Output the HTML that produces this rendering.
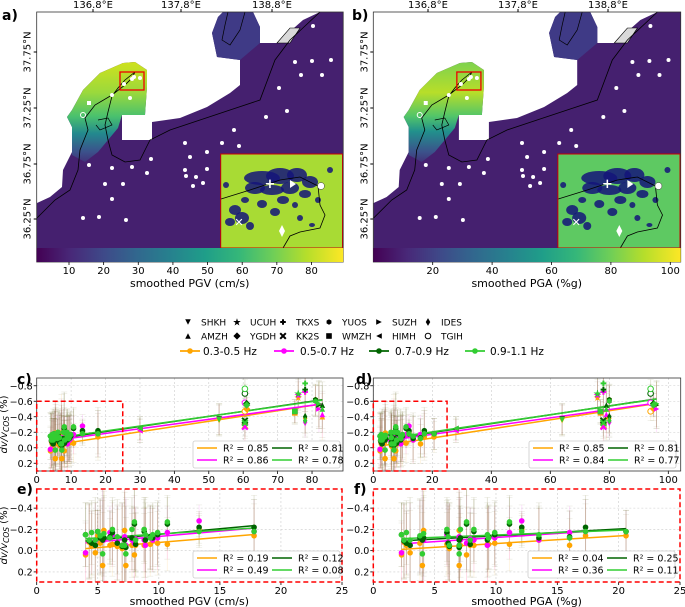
<!DOCTYPE html>
<html><head><meta charset="utf-8"><style>
html,body{margin:0;padding:0;background:#fff}
svg{display:block;font-family:"DejaVu Sans","Liberation Sans",sans-serif}
</style></head><body>
<svg id="fig" width="685" height="607" viewBox="0 0 685 607">
<defs>
<linearGradient id="vir" x1="0" x2="1" y1="0" y2="0">
<stop offset="0" stop-color="#440154"/><stop offset="0.11" stop-color="#482878"/><stop offset="0.22" stop-color="#3e4a89"/><stop offset="0.33" stop-color="#31688e"/><stop offset="0.44" stop-color="#26828e"/><stop offset="0.55" stop-color="#1f9e89"/><stop offset="0.66" stop-color="#35b779"/><stop offset="0.77" stop-color="#6ece58"/><stop offset="0.88" stop-color="#b5de2b"/><stop offset="1" stop-color="#fde725"/>
</linearGradient>
<linearGradient id="notoA" gradientUnits="userSpaceOnUse" x1="0" y1="60" x2="0" y2="168">
<stop offset="0" stop-color="#d2e21b"/><stop offset="0.3" stop-color="#9bd93c"/><stop offset="0.52" stop-color="#4ac16d"/><stop offset="0.68" stop-color="#23898e"/><stop offset="0.85" stop-color="#3b518b"/><stop offset="1" stop-color="#45206f"/>
</linearGradient>
<linearGradient id="notoB" gradientUnits="userSpaceOnUse" x1="0" y1="60" x2="0" y2="168">
<stop offset="0" stop-color="#7ad151"/><stop offset="0.3" stop-color="#b8de29"/><stop offset="0.52" stop-color="#52c569"/><stop offset="0.66" stop-color="#21918c"/><stop offset="0.85" stop-color="#3b528b"/><stop offset="1" stop-color="#45206f"/>
</linearGradient>
</defs>
<g id="maps"></g>
<g id="legend-top"></g>
<g id="charts"></g>
</svg>
<script>
// ---------- chart data ----------
const stationNames = ["TGIH","YGDH","KK2S","SUZH","TKXS","UCUH","YUOS","WMZH","IDES","AMZH","SHKH","HIMH",
 "S13","S14","S15","S16","S17","S18","S19","S20","S21","S22","S23","S24","S25","S26","S27","S28","S29","S30","S31","S32","S33","S34","S35","S36","S37"];
const stationMarkers = ["O","D","X",">","P","*","h","s","d","^","v","<",
 "o","o","o","o","o","o","o","o","o","o","o","o","o","o","o","o","o","o","o","o","o","o","o","o","o"];
const pgvValues = [60.5,61,60.5,82,78,76,81,75,78,83,53,30,
 4.0,4.3,4.5,4.8,5.2,5.4,5.5,6.2,6.6,7.0,7.2,7.3,7.8,8.0,8.1,8.8,8.9,9.3,9.9,10.7,13.3,17.8,9.5,6.0,5.0];
const pgaValues = [94,95,78,96,78,76,80,77,80,79,64,28,
 2.3,2.5,2.7,3.0,3.8,4.0,4.1,6.0,6.1,6.2,7.0,7.0,7.1,7.6,7.9,8.2,9.3,9.4,9.9,11.1,12.1,17.3,13.5,16.0,20.6];
const dvBand1 = [-0.47,-0.50,-0.28,-0.55,-0.72,-0.65,-0.62,-0.45,-0.38,-0.40,-0.35,-0.22,
 0.04,-0.08,-0.05,0.02,-0.07,0.14,-0.19,-0.06,-0.04,-0.02,-0.19,0.14,-0.05,0.04,-0.05,-0.05,-0.06,-0.06,-0.07,-0.06,-0.20,-0.14,-0.10,-0.05,-0.14];
const dvBand2 = [-0.58,-0.55,-0.27,-0.50,-0.72,-0.68,-0.60,-0.47,-0.33,-0.43,-0.37,-0.22,
 0.02,-0.09,-0.08,-0.05,-0.13,-0.10,-0.10,-0.15,-0.08,-0.05,-0.13,-0.05,-0.10,-0.07,-0.11,-0.10,-0.05,-0.12,-0.12,-0.17,-0.28,-0.18,-0.10,-0.17,-0.18];
const dvBand3 = [-0.70,-0.57,-0.35,-0.55,-0.75,-0.70,-0.62,-0.47,-0.40,-0.55,-0.37,-0.25,
 -0.15,-0.09,-0.07,-0.05,-0.12,-0.10,-0.12,-0.17,-0.07,-0.04,-0.10,-0.03,-0.12,-0.25,-0.06,-0.18,-0.10,-0.13,-0.15,-0.25,-0.22,-0.22,-0.12,-0.13,-0.18];
const dvBand4 = [-0.76,-0.55,-0.32,-0.57,-0.83,-0.70,-0.60,-0.47,-0.35,-0.50,-0.36,-0.25,
 -0.15,-0.10,-0.17,-0.10,-0.14,0.03,-0.16,-0.20,-0.13,-0.05,-0.05,0.03,-0.20,-0.27,-0.10,-0.20,-0.15,-0.12,-0.17,-0.27,-0.18,-0.18,-0.15,-0.12,-0.18];
const dvErrors = [0.12,0.15,0.2,0.3,0.25,0.2,0.2,0.15,0.2,0.3,0.2,0.15,
 0.3,0.35,0.3,0.4,0.35,0.5,0.4,0.3,0.35,0.4,0.5,0.45,0.3,0.45,0.3,0.3,0.35,0.3,0.3,0.25,0.15,0.3,0.3,0.25,0.2];
const bandLabels = ["0.3-0.5 Hz","0.5-0.7 Hz","0.7-0.9 Hz","0.9-1.1 Hz"];
const r2LabelsC = ["R² = 0.85","R² = 0.86","R² = 0.81","R² = 0.78"];
const r2LabelsD = ["R² = 0.85","R² = 0.84","R² = 0.81","R² = 0.77"];
const r2LabelsE = ["R² = 0.19","R² = 0.49","R² = 0.12","R² = 0.08"];
const r2LabelsF = ["R² = 0.04","R² = 0.36","R² = 0.25","R² = 0.11"];
const ticksXC = [0,10,20,30,40,50,60,70,80];
const ticksXD = [0,20,40,60,80,100];
const ticksXZoom = [0,5,10,15,20,25];
const ticksYC = [-0.8,-0.6,-0.4,-0.2,0.0,0.2];
const ticksYZoom = [-0.4,-0.2,0.0,0.2];
const cbTicksA = [10,20,30,40,50,60,70,80];
const cbTicksB = [20,40,60,80,100];
// ---------------------------------
const NS="http://www.w3.org/2000/svg";
const bands=[dvBand1,dvBand2,dvBand3,dvBand4];
const bandColors=["#ffa500","#ff00ff","#006400","#32cd32"];
function mk(parent,tag,attrs,text){const e=document.createElementNS(NS,tag);for(const k in attrs)e.setAttribute(k,attrs[k]);if(text!==undefined)e.textContent=text;parent.appendChild(e);return e;}
function fmt(v){let s=v.toFixed(1);if(s==="-0.0")s="0.0";return s.replace("-","\u2212");}

// ---------- maps ----------
const maps=document.getElementById('maps');
function drawMap(ox,sx,tag,grad,insetFill,lonX,cbTicks,cbX,label){
  const g=mk(maps,'g',{});
  
  
  const P=pts=>pts.map(p=>(ox+(p[0]-36.7)*sx).toFixed(1)+','+p[1]).join(' ');
  const main=[[37,203],[37,248],[343,248],[343,12],[320,12],[303,20],[277,43],[260,43],[260,27],[253,12],[223,12],[218,17],[212,33],[217,57],[240,60],[240,85],[230,93],[207,107],[180,118],[152,122],[152,140],[122,140],[122,115],[145,115],[147,87],[147,70],[135,62],[123,63],[100,73],[83,90],[72,110],[67,117],[72,127],[72,152],[63,170],[62,187],[50,197]];
  const r=mk(g,'polygon',{points:P(main),fill:'#45206f'});
  
  mk(g,'polygon',{points:P([[223,12],[253,12],[260,27],[260,43],[240,60],[217,57],[212,33],[218,17]]),fill:'#3f3a86'});
  const noto=[[67,117],[72,110],[83,90],[100,73],[123,63],[135,62],[147,70],[147,87],[145,115],[122,115],[118,128],[108,140],[98,152],[85,162],[72,155],[72,127]];
  mk(g,'polygon',{points:P(noto),fill:grad});
  mk(g,'polygon',{points:P([[277,43],[290,28],[300,28],[290,43]]),fill:'#d9d9d9',stroke:'#000','stroke-width':0.6});
  const coast=[[37,218],[55,200],[70,190],[78,170],[80,150],[88,130],[85,118],[95,105],[112,95],[125,85],[132,78],[135,72],[130,76],[125,80],[118,88],[112,96],[108,112],[105,125],[108,140],[112,155],[125,162],[140,160],[150,140],[170,130],[200,120],[230,110],[260,100],[275,60],[290,40],[320,12]];
  mk(g,'polyline',{points:P(coast),fill:'none',stroke:'#000','stroke-width':0.8});
  mk(g,'polyline',{points:P([[228,12],[225,25],[222,40],[230,45],[240,30],[245,12]]),fill:'none',stroke:'#000','stroke-width':0.7});
  mk(g,'polyline',{points:P([[98,120],[108,118],[112,125],[100,130],[96,125]]),fill:'none',stroke:'#000','stroke-width':0.7});
  const dots=[[313,26],[295,62],[312,61],[331,60],[301,75],[322,75],[279,88],[287,111],[266,117],[234,130],[222,143],[239,146],[185,143],[207,152],[190,157],[151,159],[132,167],[112,168],[89,165],[185,170],[207,169],[147,173],[186,176],[196,177],[203,183],[193,186],[105,184],[123,184],[112,199],[83,218],[99,217],[126,220],[112,95],[130,98],[132,79],[134,77],[140,78],[124,84]];
  dots.forEach(d=>{const c=mk(g,'circle',{cx:(ox+(d[0]-36.7)*sx).toFixed(1),cy:d[1],r:2,fill:'#fff'});});
  mk(g,'circle',{cx:ox+(83-36.7)*sx,cy:115,r:2.5,fill:'none',stroke:'#fff','stroke-width':1});
  mk(g,'rect',{x:ox+(87-36.7)*sx,y:101,width:4,height:4,fill:'#fff'});
  const rb=mk(g,'rect',{x:ox+(120-36.7)*sx,y:72,width:24*sx,height:18,fill:'none',stroke:'#e00','stroke-width':1.3});
  
  const ix=ox+(220.7-36.7)*sx, iw=342.5-220.7;
  const ins=mk(g,'g',{});
  
  mk(ins,'rect',{x:ix,y:154,width:iw*sx,height:94,fill:insetFill});
  const blobs=[[262,178,18,7],[280,176,14,8],[297,175,10,7],[310,182,8,6],[255,188,10,6],[272,190,12,5],[290,188,9,6],[305,194,6,4],[235,210,6,5],[242,218,7,6],[230,222,5,4],[250,226,4,4],[262,204,5,4],[275,212,5,4],[295,205,3,3],[318,200,3,3],[245,200,4,3],[283,200,6,4],[226,185,3,3],[330,170,3,3],[300,218,3,3],[312,225,3,2]];
  blobs.forEach(b=>mk(ins,'ellipse',{cx:ox+(b[0]-36.7)*sx,cy:b[1],rx:b[2]*sx,ry:b[3],fill:'#14147a',opacity:0.85}));
  mk(ins,'polyline',{points:P([[221,199],[250,190],[280,180],[300,177],[318,186],[320,205],[325,215],[320,228],[300,232],[290,236],[283,248]]),fill:'none',stroke:'#000','stroke-width':0.8});
  mk(ins,'text',{x:ox+(270-36.7)*sx,y:188,'font-size':13,fill:'#fff','text-anchor':'middle','font-weight':'bold'},'+');
  mk(ins,'polygon',{points:P([[290,180],[296,184],[290,188]]),fill:'#fff'});
  mk(ins,'circle',{cx:ox+(321-36.7)*sx,cy:186,r:3.5,fill:'#fff',stroke:'#333','stroke-width':0.5});
  mk(ins,'text',{x:ox+(239-36.7)*sx,y:226,'font-size':11,fill:'#fff','text-anchor':'middle','font-weight':'bold'},'✕');
  mk(ins,'polygon',{points:P([[282,225],[285,231],[282,237],[279,231]]),fill:'#fff'});
  mk(ins,'rect',{x:ix,y:154,width:iw*sx,height:94,fill:'none',stroke:'#c00','stroke-width':1});
  mk(g,'rect',{x:ox,y:12,width:306.5*sx,height:250,fill:'none',stroke:'#333','stroke-width':0.8});
  const cb=mk(g,'rect',{x:ox,y:248,width:306.5*sx,height:14,fill:'url(#vir)'});
  
  cbTicks.forEach(t=>{const x=cbX(t);mk(g,'line',{x1:x,x2:x,y1:262,y2:265,stroke:'#000','stroke-width':0.8});mk(g,'text',{x:x,y:274,'font-size':10,'text-anchor':'middle'},String(t));});
  const xl=mk(g,'text',{x:ox+153*sx,y:287,'font-size':11,'text-anchor':'middle'},label);
  
  ['136.8°E','137.8°E','138.8°E'].forEach((s,i)=>{mk(g,'line',{x1:lonX[i],x2:lonX[i],y1:12,y2:9,stroke:'#000'});mk(g,'text',{x:lonX[i],y:8,'font-size':10,'text-anchor':'middle'},s);});
  [['37.75°N',52],['37.25°N',108],['36.75°N',164],['36.25°N',219]].forEach(l=>{mk(g,'line',{x1:ox,x2:ox-3,y1:l[1],y2:l[1],stroke:'#000'});mk(g,'text',{x:0,y:0,'font-size':10,'text-anchor':'middle',transform:`translate(${ox-6},${l[1]}) rotate(-90)`},l[0]);});
}
drawMap(36.7,1,'a','url(#notoA)','#a8db34',[93,181,272],cbTicksA,v=>69+(v-10)*3.464,'smoothed PGV (cm/s)');
drawMap(373.3,1.003,'b','url(#notoB)','#5ec962',[428,518,608],cbTicksB,v=>432.7+(v-20)*2.97,'smoothed PGA (%g)');
[['a)',2,20],['b)',352,20],['c)',17,384],['d)',356,384],['e)',17,494],['f)',354,494]].forEach(l=>{const t=mk(document.getElementById('fig'),'text',{x:l[1],y:l[2],'font-size':14,'font-weight':'bold'},l[0]);});

// ---------- marker drawing ----------
function marker(g,type,x,y,s,fill){
  const h=s;
  if(type==='o')return mk(g,'circle',{cx:x,cy:y,r:h,fill:fill});
  if(type==='O')return mk(g,'circle',{cx:x,cy:y,r:h,fill:'#fff',stroke:fill,'stroke-width':1});
  if(type==='s')return mk(g,'rect',{x:x-h,y:y-h,width:2*h,height:2*h,fill:fill});
  if(type==='D')return mk(g,'polygon',{points:`${x},${y-h*1.3} ${x+h*1.3},${y} ${x},${y+h*1.3} ${x-h*1.3},${y}`,fill:fill});
  if(type==='d')return mk(g,'polygon',{points:`${x},${y-h*1.4} ${x+h*0.8},${y} ${x},${y+h*1.4} ${x-h*0.8},${y}`,fill:fill});
  if(type==='^')return mk(g,'polygon',{points:`${x},${y-h} ${x+h},${y+h} ${x-h},${y+h}`,fill:fill});
  if(type==='v')return mk(g,'polygon',{points:`${x-h},${y-h} ${x+h},${y-h} ${x},${y+h}`,fill:fill});
  if(type==='>')return mk(g,'polygon',{points:`${x-h},${y-h} ${x+h},${y} ${x-h},${y+h}`,fill:fill});
  if(type==='<')return mk(g,'polygon',{points:`${x+h},${y-h} ${x-h},${y} ${x+h},${y+h}`,fill:fill});
  if(type==='P')return mk(g,'path',{d:`M${x-h} ${y}H${x+h}M${x} ${y-h}V${y+h}`,stroke:fill,'stroke-width':2});
  if(type==='X')return mk(g,'path',{d:`M${x-h} ${y-h}L${x+h} ${y+h}M${x+h} ${y-h}L${x-h} ${y+h}`,stroke:fill,'stroke-width':2});
  if(type==='*')return mk(g,'text',{x:x,y:y+3.5,'font-size':10,'text-anchor':'middle',fill:fill},'★');
  if(type==='h')return mk(g,'polygon',{points:[0,1,2,3,4,5].map(i=>`${x+h*Math.cos(Math.PI/3*i+Math.PI/6)},${y+h*Math.sin(Math.PI/3*i+Math.PI/6)}`).join(' '),fill:fill});
  return mk(g,'circle',{cx:x,cy:y,r:h,fill:fill});
}

// ---------- top legend ----------
const lg=document.getElementById('legend-top');

const legStations=[['v','SHKH',188,322],['*','UCUH',237,322],['P','TKXS',283,322],['h','YUOS',329,322],['>','SUZH',379,322],['d','IDES',428,322],
['^','AMZH',188,336],['D','YGDH',237,336],['X','KK2S',283,336],['s','WMZH',329,336],['<','HIMH',379,336],['O','TGIH',428,336]];
legStations.forEach(s=>{marker(lg,s[0],s[2],s[3],2.8,'#000');mk(lg,'text',{x:s[2]+13,y:s[3]+3.5,'font-size':9},s[1]);});
[[180,203],[274,300],[369,395],[465,490]].forEach((p,i)=>{
  const e=mk(lg,'g',{});
  
  
  mk(e,'line',{x1:p[0],x2:p[0]+20,y1:351,y2:351,stroke:bandColors[i],'stroke-width':1.8});
  mk(e,'circle',{cx:p[0]+10,cy:351,r:2.8,fill:bandColors[i]});
  mk(e,'text',{x:p[1],y:355,'font-size':10.5},bandLabels[i]);
});

// ---------- scatter panels ----------
const charts=document.getElementById('charts');
function panel(cfg){
  const g=mk(charts,'g',{});
  
  
  const sx=v=>cfg.x0+(v-cfg.xmin)*(cfg.x1-cfg.x0)/(cfg.xmax-cfg.xmin);
  const sy=v=>cfg.y0+(v-cfg.ymin)*(cfg.y1-cfg.y0)/(cfg.ymax-cfg.ymin);
  const cid='clip-'+cfg.name;
  const cp=mk(g,'clipPath',{id:cid});mk(cp,'rect',{x:cfg.x0,y:cfg.y0,width:cfg.x1-cfg.x0,height:cfg.y1-cfg.y0});
  cfg.xt.forEach(t=>{const x=sx(t);mk(g,'line',{x1:x,x2:x,y1:cfg.y0,y2:cfg.y1,stroke:'#ccc','stroke-width':0.6,'stroke-dasharray':'2,2'});
    mk(g,'line',{x1:x,x2:x,y1:cfg.y1,y2:cfg.y1+3,stroke:'#000','stroke-width':0.8});
    const t1=mk(g,'text',{x:x,y:cfg.y1+12,'font-size':10,'text-anchor':'middle'},String(t));});
  cfg.yt.forEach(t=>{const y=sy(t);mk(g,'line',{x1:cfg.x0,x2:cfg.x1,y1:y,y2:y,stroke:'#ccc','stroke-width':0.6,'stroke-dasharray':'2,2'});
    mk(g,'line',{x1:cfg.x0,x2:cfg.x0-3,y1:y,y2:y,stroke:'#000','stroke-width':0.8});
    const t1=mk(g,'text',{x:cfg.x0-4,y:y+3.5,'font-size':9.5,'text-anchor':'end'},fmt(t));});
  const inner=mk(g,'g',{'clip-path':`url(#${cid})`});
  const xv=cfg.xvals;
  const idx=[];xv.forEach((v,i)=>{if(v<=cfg.xmax)idx.push(i);});
  bands.forEach((b,bi)=>{idx.forEach(i=>{const x=sx(xv[i]),e=dvErrors[i];
    const l=mk(inner,'line',{x1:x,x2:x,y1:sy(b[i]-e),y2:sy(b[i]+e),stroke:bi<2?bandColors[bi]:'#6b6b2a','stroke-width':1,opacity:bi<2?0.1:0.18});
    
    mk(inner,'line',{x1:x-3,x2:x+3,y1:sy(b[i]-e),y2:sy(b[i]-e),stroke:'#6b6b2a','stroke-width':0.6,opacity:0.15});
    mk(inner,'line',{x1:x-3,x2:x+3,y1:sy(b[i]+e),y2:sy(b[i]+e),stroke:'#6b6b2a','stroke-width':0.6,opacity:0.15});
  });});
  bands.forEach((b,bi)=>{
    let n=idx.length,sxv=0,syv=0,sxx=0,sxy=0,mn=1e9,mx=-1e9;
    idx.forEach(i=>{sxv+=xv[i];syv+=b[i];sxx+=xv[i]*xv[i];sxy+=xv[i]*b[i];mn=Math.min(mn,xv[i]);mx=Math.max(mx,xv[i]);});
    const m=(n*sxy-sxv*syv)/(n*sxx-sxv*sxv),c=(syv-m*sxv)/n;
    const l=mk(inner,'line',{x1:sx(mn),x2:sx(mx),y1:sy(m*mn+c),y2:sy(m*mx+c),stroke:bandColors[bi],'stroke-width':1.5});
    
  });
  bands.forEach((b,bi)=>{idx.forEach(i=>{const p=marker(inner,stationMarkers[i],sx(xv[i]),sy(b[i]),2.8,bandColors[bi]);
    
    });});
  if(cfg.redFrame){mk(g,'rect',{x:cfg.x0,y:cfg.y0,width:cfg.x1-cfg.x0,height:cfg.y1-cfg.y0,fill:'none',stroke:'#f00','stroke-width':1.5,'stroke-dasharray':'5,3'});}
  else{mk(g,'rect',{x:cfg.x0,y:cfg.y0,width:cfg.x1-cfg.x0,height:cfg.y1-cfg.y0,fill:'none',stroke:'#333','stroke-width':0.8});
    const z=mk(g,'rect',{x:sx(0),y:sy(-0.6),width:sx(25)-sx(0),height:cfg.y1-sy(-0.6),fill:'none',stroke:'#f00','stroke-width':1.5,'stroke-dasharray':'5,3'});
    }
  const L=mk(g,'g',{});
  
  mk(L,'rect',{x:cfg.lx,y:cfg.ly,width:147,height:27,fill:'#fff',stroke:'#ccc','stroke-width':0.8,rx:2});
  [[0,0],[0,1],[1,0],[1,1]].forEach(p=>{const col=p[0],row=p[1];const bb=col*2+row;
    const x=cfg.lx+4+col*75,y=cfg.ly+7+row*12;
    mk(L,'line',{x1:x,x2:x+20,y1:y,y2:y,stroke:bandColors[bb],'stroke-width':1.5});
    mk(L,'text',{x:x+26,y:y+3.5,'font-size':9.5},cfg.r2[bb]);});
  if(cfg.xlabel){const t=mk(g,'text',{x:(cfg.x0+cfg.x1)/2,y:cfg.y1+23,'font-size':11,'text-anchor':'middle'},cfg.xlabel);}
  if(cfg.ylabel){const t=mk(g,'text',{x:0,y:0,'font-size':10,'text-anchor':'middle',transform:`translate(7,${(cfg.y0+cfg.y1)/2}) rotate(-90)`});
    
    mk(t,'tspan',{'font-style':'italic'},'dv/v');mk(t,'tspan',{'font-style':'italic','font-size':7.5,dy:2},'COS');mk(t,'tspan',{dy:-2},' (%)');}
}
panel({name:'panel-c',x0:36.7,x1:343,xmin:0,xmax:89,y0:378,y1:471,ymin:-0.9,ymax:0.3,xt:ticksXC,yt:ticksYC,xvals:pgvValues,r2:r2LabelsC,lx:193,ly:441,ylabel:true});
panel({name:'panel-d',x0:373.3,x1:680.7,xmin:0,xmax:104.2,y0:378,y1:471,ymin:-0.9,ymax:0.3,xt:ticksXD,yt:ticksYC,xvals:pgaValues,r2:r2LabelsD,lx:529,ly:441});
panel({name:'panel-e',x0:36.7,x1:342,xmin:0,xmax:25,y0:489,y1:582,ymin:-0.58,ymax:0.295,xt:ticksXZoom,yt:ticksYZoom,xvals:pgvValues,r2:r2LabelsE,lx:193,ly:551,redFrame:true,xlabel:'smoothed PGV (cm/s)',ylabel:true});
panel({name:'panel-f',x0:373.3,x1:680,xmin:0,xmax:25,y0:489,y1:582,ymin:-0.58,ymax:0.295,xt:ticksXZoom,yt:ticksYZoom,xvals:pgaValues,r2:r2LabelsF,lx:528,ly:551,redFrame:true,xlabel:'smoothed PGA (%g)'});
</script>
</body></html>
